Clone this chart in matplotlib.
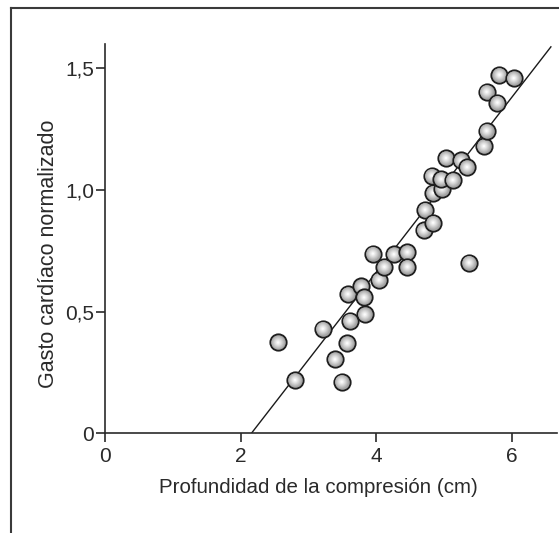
import numpy as np
import matplotlib
matplotlib.use("Agg")
import matplotlib.pyplot as plt
from matplotlib.lines import Line2D

# compression depth (cm) vs normalized cardiac output
depth = [2.55, 2.80, 3.21, 3.39, 3.49, 3.57, 3.58, 3.61, 3.78, 3.82, 3.83, 3.95,
         4.04, 4.12, 4.26, 4.46, 4.46, 4.70, 4.72, 4.84, 4.84, 4.82, 4.97, 4.96,
         5.03, 5.13, 5.25, 5.34, 5.37, 5.59, 5.63, 5.63, 5.79, 5.82, 6.03]
output = [0.373, 0.219, 0.430, 0.304, 0.212, 0.370, 0.572, 0.463, 0.603, 0.558,
          0.488, 0.738, 0.631, 0.684, 0.735, 0.744, 0.684, 0.834, 0.918, 0.865,
          0.988, 1.058, 1.005, 1.044, 1.130, 1.040, 1.120, 1.093, 0.701, 1.179,
          1.242, 1.402, 1.358, 1.472, 1.458]

fit_slope = 0.3585
fit_intercept = -0.7725
fit_range = [2.155, 6.58]

xticks = [0, 2, 4, 6]
yticks = [0, 0.5, 1.0, 1.5]
yticklabels = ["0", "0,5", "1,0", "1,5"]

plt.rcParams["font.family"] = ["Liberation Sans", "DejaVu Sans"]
dark = "#2a2a2a"

fig = plt.figure(figsize=(5.59, 5.33), dpi=100)
ax = fig.add_axes([0.1887, 0.1869, 0.8077, 0.7305])

# fit line
fx = np.array(fit_range)
ax.plot(fx, fit_slope * fx + fit_intercept, color="#1a1a1a", lw=1.0, zorder=2)

# shaded "sphere" markers: dark rim + layered grey disks getting lighter inward,
# each point drawn as a whole so overlapping spheres stack like in the original
layers = [(9.4, "#b4b4b4"), (7.9, "#c3c3c3"), (6.4, "#d2d2d2"),
          (4.9, "#e0e0e0"), (3.4, "#ededed"), (1.8, "#fbfbfb")]
for k, (x, y) in enumerate(zip(depth, output)):
    z = 3 + k * 0.1
    ax.scatter([x], [y], s=11.8**2, c="#a4a4a4", edgecolors="#1e1e1e",
               linewidths=1.3, zorder=z)
    for j, (sz, col) in enumerate(layers):
        ax.scatter([x], [y], s=sz**2, c=col, edgecolors="none",
                   zorder=z + 0.01 * (j + 1))

ax.set_xlim(0, 6.67)
ax.set_ylim(0, 1.598)
ax.set_xticks(xticks)
ax.set_yticks(yticks)
ax.set_yticklabels(yticklabels)
for s in ["top", "right"]:
    ax.spines[s].set_visible(False)
for s in ["left", "bottom"]:
    ax.spines[s].set_color(dark)
    ax.spines[s].set_linewidth(1.2)
ax.tick_params(axis="both", direction="out", length=6.5, width=1.2,
               color=dark, labelcolor=dark, labelsize=15)
ax.tick_params(axis="x", pad=3)
ax.tick_params(axis="y", pad=1.5)

ax.set_xlabel("Profundidad de la compresión (cm)", fontsize=14.8, color=dark)
ax.xaxis.set_label_coords(0.471, -0.115)
ax.set_ylabel("Gasto cardíaco normalizado", fontsize=15.5, color=dark)
ax.yaxis.set_label_coords(-0.103, 0.462)

# outer frame (left and top edges only)
fig.add_artist(Line2D([11 / 559, 11 / 559], [0, 1 - 7.5 / 533],
                      transform=fig.transFigure, color="#3a3a3a", lw=1.5))
fig.add_artist(Line2D([11 / 559, 1], [1 - 7.5 / 533, 1 - 7.5 / 533],
                      transform=fig.transFigure, color="#3a3a3a", lw=1.5))

fig.savefig("out.png", dpi=100)
